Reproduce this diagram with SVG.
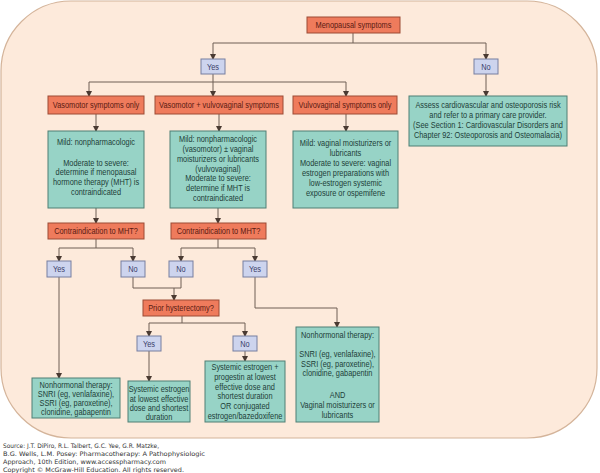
<svg xmlns="http://www.w3.org/2000/svg" width="600" height="473" viewBox="0 0 600 473">
<defs>
<marker id="arr" markerWidth="6" markerHeight="6" refX="5" refY="3" orient="auto" markerUnits="userSpaceOnUse">
<path d="M0,0 L6,3 L0,6 Z" fill="#4a3a32"/>
</marker>
<style>
.or{fill:#ef7b5c;stroke:#9c4a34;stroke-width:1}
.tl{fill:#97d3c6;stroke:#4f7f74;stroke-width:1}
.bl{fill:#cdd4ee;stroke:#777ea0;stroke-width:1}
text{font-family:"Liberation Sans",Arial,sans-serif;font-size:8.5px;text-anchor:middle}
.ot{fill:#5a1a12}
.tt{fill:#1d4038}
.bt{fill:#3a3e6a}
.cn path{fill:none;stroke:#6e5e55;stroke-width:1}
.src{font-family:"DejaVu Sans",Verdana,sans-serif;font-size:6.2px;text-anchor:start;fill:#333}
</style>
</defs>
<rect x="1" y="1" width="596" height="437" rx="70" ry="70" fill="#fdeadb" stroke="#d4b49a" stroke-width="1.2"/>

<g class="cn">
<path d="M353,33 V43 M213,43 H486" />
<path d="M213,43 V59" marker-end="url(#arr)"/>
<path d="M486,43 V59" marker-end="url(#arr)"/>
<path d="M213,74 V96" marker-end="url(#arr)"/>
<path d="M486,74 V96" marker-end="url(#arr)"/>
<path d="M89,82 H346" />
<path d="M89,82 V96" marker-end="url(#arr)"/>
<path d="M346,82 V96" marker-end="url(#arr)"/>
<path d="M96,114 V131" marker-end="url(#arr)"/>
<path d="M219,114 V131" marker-end="url(#arr)"/>
<path d="M346,114 V131" marker-end="url(#arr)"/>
<path d="M96,208 V223" marker-end="url(#arr)"/>
<path d="M218,208 V223" marker-end="url(#arr)"/>
<path d="M96,239 V248 M59,248 H133 M218,239 V248 M181,248 H255"/>
<path d="M59,248 V261" marker-end="url(#arr)"/>
<path d="M133,248 V261" marker-end="url(#arr)"/>
<path d="M181,248 V261" marker-end="url(#arr)"/>
<path d="M255,248 V261" marker-end="url(#arr)"/>
<path d="M133,277 V288 H181 V277"/>
<path d="M174,288 V300" marker-end="url(#arr)"/>
<path d="M182,316 V323 M149,323 H245"/>
<path d="M149,323 V336" marker-end="url(#arr)"/>
<path d="M245,323 V336" marker-end="url(#arr)"/>
<path d="M149,351 V381" marker-end="url(#arr)"/>
<path d="M245,351 V361" marker-end="url(#arr)"/>
<path d="M59,277 V378" marker-end="url(#arr)"/>
<path d="M255,277 V308 H337 V327" marker-end="url(#arr)"/>
</g>

<g id="menopausal"><rect class="or" x="307" y="17" width="93" height="16"/><text class="ot" transform="matrix(.87 0 0 1 353.5 28)">Menopausal symptoms</text></g>
<g id="yes-top"><rect class="bl" x="201" y="59" width="24" height="15"/><text class="bt" transform="matrix(.87 0 0 1 213 69.5)">Yes</text></g>
<g id="no-top"><rect class="bl" x="474" y="59" width="24" height="15"/><text class="bt" transform="matrix(.87 0 0 1 486 69.5)">No</text></g>

<g id="vaso-only"><rect class="or" x="48" y="96" width="96" height="18"/><text class="ot" transform="matrix(.87 0 0 1 96 108)">Vasomotor symptoms only</text></g>
<g id="vaso-vulvo"><rect class="or" x="155" y="96" width="128" height="18"/><text class="ot" transform="matrix(.87 0 0 1 219 108)">Vasomotor + vulvovaginal symptoms</text></g>
<g id="vulvo-only"><rect class="or" x="293" y="96" width="104" height="18"/><text class="ot" transform="matrix(.87 0 0 1 345 108)">Vulvovaginal symptoms only</text></g>

<g id="assess"><rect class="tl" x="409" y="96" width="158" height="50"/>
<text class="tt" transform="matrix(.87 0 0 1 488 108)">Assess cardiovascular and osteoporosis risk</text>
<text class="tt" transform="matrix(.87 0 0 1 488 118)">and refer to a primary care provider.</text>
<text class="tt" transform="matrix(.87 0 0 1 488 128)">(See Section 1: Cardiovascular Disorders and</text>
<text class="tt" transform="matrix(.87 0 0 1 488 138)">Chapter 92: Osteoporosis and Osteomalacia)</text>
</g>

<g id="mild1"><rect class="tl" x="48" y="131" width="96" height="77"/>
<text class="tt" transform="matrix(.87 0 0 1 96 145)">Mild: nonpharmacologic</text>
<text class="tt" transform="matrix(.87 0 0 1 96 165.5)">Moderate to severe:</text>
<text class="tt" transform="matrix(.87 0 0 1 96 175)">determine if menopausal</text>
<text class="tt" transform="matrix(.87 0 0 1 96 185)">hormone therapy (MHT) is</text>
<text class="tt" transform="matrix(.87 0 0 1 96 195)">contraindicated</text>
</g>
<g id="mild2"><rect class="tl" x="170" y="131" width="96" height="77"/>
<text class="tt" transform="matrix(.87 0 0 1 218 142)">Mild: nonpharmacologic</text>
<text class="tt" transform="matrix(.87 0 0 1 218 152)">(vasomotor) ± vaginal</text>
<text class="tt" transform="matrix(.87 0 0 1 218 162)">moisturizers or lubricants</text>
<text class="tt" transform="matrix(.87 0 0 1 218 171.5)">(vulvovaginal)</text>
<text class="tt" transform="matrix(.87 0 0 1 218 181)">Moderate to severe:</text>
<text class="tt" transform="matrix(.87 0 0 1 218 191)">determine if MHT is</text>
<text class="tt" transform="matrix(.87 0 0 1 218 201)">contraindicated</text>
</g>
<g id="mild3"><rect class="tl" x="293" y="131" width="105" height="77"/>
<text class="tt" transform="matrix(.87 0 0 1 345.5 146)">Mild: vaginal moisturizers or</text>
<text class="tt" transform="matrix(.87 0 0 1 345.5 156)">lubricants</text>
<text class="tt" transform="matrix(.87 0 0 1 345.5 166)">Moderate to severe: vaginal</text>
<text class="tt" transform="matrix(.87 0 0 1 345.5 176)">estrogen preparations with</text>
<text class="tt" transform="matrix(.87 0 0 1 345.5 186)">low-estrogen systemic</text>
<text class="tt" transform="matrix(.87 0 0 1 345.5 196)">exposure or ospemifene</text>
</g>

<g id="contra1"><rect class="or" x="48" y="223" width="96" height="16"/><text class="ot" transform="matrix(.87 0 0 1 96 234)">Contraindication to MHT?</text></g>
<g id="contra2"><rect class="or" x="171" y="223" width="95" height="16"/><text class="ot" transform="matrix(.87 0 0 1 218.5 234)">Contraindication to MHT?</text></g>

<g id="yes1"><rect class="bl" x="47" y="261" width="24" height="16"/><text class="bt" transform="matrix(.87 0 0 1 59 272)">Yes</text></g>
<g id="no1"><rect class="bl" x="121" y="261" width="24" height="16"/><text class="bt" transform="matrix(.87 0 0 1 133 272)">No</text></g>
<g id="no2"><rect class="bl" x="169" y="261" width="24" height="16"/><text class="bt" transform="matrix(.87 0 0 1 181 272)">No</text></g>
<g id="yes2"><rect class="bl" x="243" y="261" width="24" height="16"/><text class="bt" transform="matrix(.87 0 0 1 255 272)">Yes</text></g>

<g id="prior"><rect class="or" x="143" y="300" width="76" height="16"/><text class="ot" transform="matrix(.87 0 0 1 181 311)">Prior hysterectomy?</text></g>
<g id="yes3"><rect class="bl" x="137" y="336" width="24" height="15"/><text class="bt" transform="matrix(.87 0 0 1 149 346.5)">Yes</text></g>
<g id="no3"><rect class="bl" x="233" y="336" width="24" height="15"/><text class="bt" transform="matrix(.87 0 0 1 245 346.5)">No</text></g>

<g id="nonhorm1"><rect class="tl" x="32" y="378" width="88" height="40"/>
<text class="tt" transform="matrix(.87 0 0 1 76 388)">Nonhormonal therapy:</text>
<text class="tt" transform="matrix(.87 0 0 1 76 397)">SNRI (eg, venlafaxine),</text>
<text class="tt" transform="matrix(.87 0 0 1 76 406)">SSRI (eg, paroxetine),</text>
<text class="tt" transform="matrix(.87 0 0 1 76 415)">clonidine, gabapentin</text>
</g>
<g id="systemic"><rect class="tl" x="128" y="381" width="62" height="41"/>
<text class="tt" transform="matrix(.87 0 0 1 159 392)">Systemic estrogen</text>
<text class="tt" transform="matrix(.87 0 0 1 159 401.5)">at lowest effective</text>
<text class="tt" transform="matrix(.87 0 0 1 159 411)">dose and shortest</text>
<text class="tt" transform="matrix(.87 0 0 1 159 420)">duration</text>
</g>
<g id="systemic-prog"><rect class="tl" x="205" y="361" width="80" height="61"/>
<text class="tt" transform="matrix(.87 0 0 1 245 370)">Systemic estrogen +</text>
<text class="tt" transform="matrix(.87 0 0 1 245 380)">progestin at lowest</text>
<text class="tt" transform="matrix(.87 0 0 1 245 389.5)">effective dose and</text>
<text class="tt" transform="matrix(.87 0 0 1 245 399)">shortest duration</text>
<text class="tt" transform="matrix(.87 0 0 1 245 409)">OR conjugated</text>
<text class="tt" transform="matrix(.87 0 0 1 245 418.5)">estrogen/bazedoxifene</text>
</g>
<g id="nonhorm2"><rect class="tl" x="296" y="327" width="83" height="95"/>
<text class="tt" transform="matrix(.87 0 0 1 337.5 338)">Nonhormonal therapy:</text>
<text class="tt" transform="matrix(.87 0 0 1 337.5 357)">SNRI (eg, venlafaxine),</text>
<text class="tt" transform="matrix(.87 0 0 1 337.5 366.5)">SSRI (eg, paroxetine),</text>
<text class="tt" transform="matrix(.87 0 0 1 337.5 376)">clonidine, gabapentin</text>
<text class="tt" transform="matrix(.87 0 0 1 337.5 398)">AND</text>
<text class="tt" transform="matrix(.87 0 0 1 337.5 408)">Vaginal moisturizers or</text>
<text class="tt" transform="matrix(.87 0 0 1 337.5 418)">lubricants</text>
</g>

<g id="source">
<text class="src" x="3" y="448" textLength="156" lengthAdjust="spacingAndGlyphs">Source: J.T. DiPiro, R.L. Talbert, G.C. Yee, G.R. Matzke,</text>
<text class="src" x="3" y="456" textLength="202" lengthAdjust="spacingAndGlyphs">B.G. Wells, L.M. Posey: Pharmacotherapy: A Pathophysiologic</text>
<text class="src" x="3" y="464" textLength="163" lengthAdjust="spacingAndGlyphs">Approach, 10th Edition, www.accesspharmacy.com</text>
<text class="src" x="3" y="472" textLength="181" lengthAdjust="spacingAndGlyphs">Copyright © McGraw-Hill Education. All rights reserved.</text>
</g>
</svg>
